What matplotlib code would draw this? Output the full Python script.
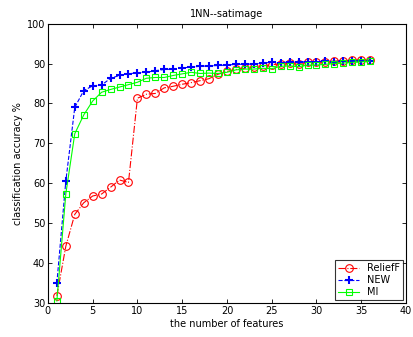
import numpy as np
import matplotlib.pyplot as plt

# number of selected features
n_features = list(range(1, 37))

relieff = [31.8, 44.2, 52.2, 55.1, 56.8, 57.3, 59.0, 60.8, 60.2, 81.3,
           82.3, 82.5, 83.9, 84.3, 84.8, 85.2, 85.7, 86.2, 87.3, 88.0,
           88.5, 88.8, 89.2, 89.4, 89.7, 89.9, 90.1, 90.0, 90.3, 90.3,
           90.5, 90.6, 90.7, 90.8, 90.9, 90.9]
new = [35.0, 60.5, 79.0, 83.2, 84.4, 84.6, 86.3, 87.0, 87.4, 87.7,
       87.8, 88.2, 88.5, 88.6, 88.9, 89.1, 89.3, 89.4, 89.5, 89.6,
       89.8, 89.8, 89.9, 90.1, 90.3, 90.2, 90.4, 90.3, 90.5, 90.4,
       90.6, 90.5, 90.6, 90.7, 90.7, 90.6]
mi = [30.5, 57.3, 72.4, 77.1, 80.6, 82.8, 83.5, 84.1, 84.7, 85.3,
      86.3, 86.5, 86.5, 87.0, 87.4, 87.8, 87.5, 87.6, 87.5, 87.8,
      88.4, 88.6, 88.6, 88.8, 88.7, 89.3, 89.4, 89.2, 89.6, 89.6,
      89.8, 90.0, 90.1, 90.3, 90.4, 90.6]

plt.rcParams['font.family'] = 'DejaVu Sans'
fig = plt.figure(figsize=(4.13, 3.37), dpi=100)
ax = fig.add_axes([0.116, 0.101, 0.867, 0.829])

ax.plot(n_features, relieff, color='#ff0000', linestyle='-.', linewidth=0.8,
        marker='o', markersize=5.5, markerfacecolor='none', markeredgewidth=0.8, label='ReliefF')
ax.plot(n_features, new, color='#0000ff', linestyle='--', linewidth=0.8,
        marker='+', markersize=6, markeredgewidth=1.5, label='NEW')
ax.plot(n_features, mi, color='#00ff00', linestyle='-', linewidth=0.8,
        marker='s', markersize=5, markerfacecolor='none', markeredgewidth=0.8, label='MI')

ax.set_xlim(0, 40)
ax.set_ylim(30, 100)
ax.set_xticks(np.arange(0, 41, 5))
ax.set_yticks(np.arange(30, 101, 10))
ax.tick_params(direction='in', top=True, right=True, labelsize=7, length=3, width=0.6, pad=2)
for s in ax.spines.values():
    s.set_linewidth(0.8)

ax.set_title("1NN--satimage", fontsize=7, pad=5)
ax.set_xlabel("the number of features", fontsize=7, labelpad=2)
ax.set_ylabel("classification accuracy %", fontsize=7, labelpad=3)

leg = ax.legend(loc='lower right', fontsize=7, frameon=True, fancybox=False,
                edgecolor='black', borderaxespad=0.3, handlelength=2.2,
                labelspacing=0.2, borderpad=0.3)
leg.get_frame().set_linewidth(0.8)

fig.savefig("out.png", dpi=100)
